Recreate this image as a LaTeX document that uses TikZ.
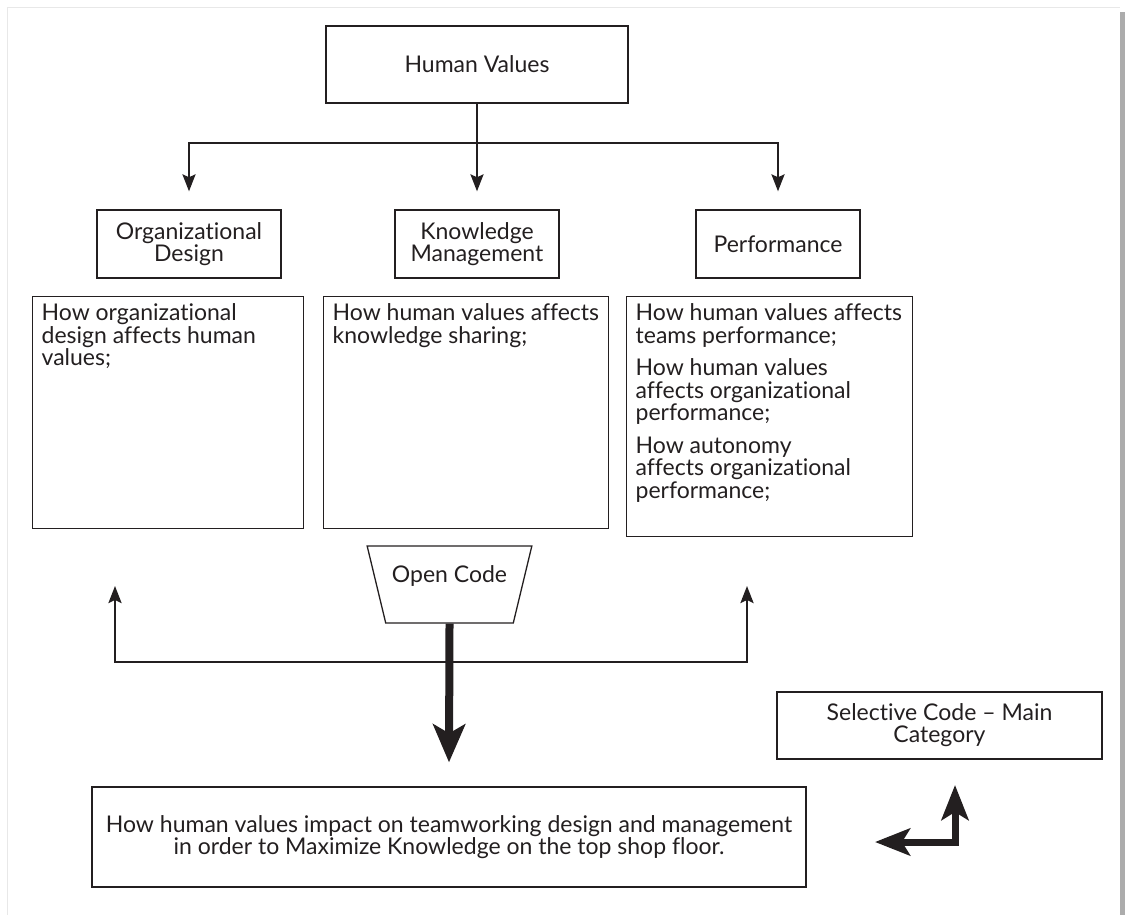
\documentclass[tikz,border=0pt]{standalone}
\usepackage{fontspec}
\setmainfont{Lato}[Ligatures=NoCommon]
\usetikzlibrary{arrows.meta,shapes.geometric}
\definecolor{ink}{HTML}{231F20}
\newcommand{\tbtext}[3]{\parbox[t][#1][t]{#2}{\fontsize{23}{22.5}\selectfont\lineskiplimit=-100pt\leftskip=9pt\rightskip=0pt plus 1fil\parindent=0pt\rule{0pt}{24pt}#3}}
\begin{document}
\begin{tikzpicture}[x=1pt,y=-1pt,
  every node/.style={text=ink},
  box/.style={draw=ink, line width=1.3pt, inner sep=0pt, font=\fontsize{23}{22}\selectfont, align=center},
  tbox/.style={draw=ink, line width=1.3pt, inner sep=0pt, anchor=north west},
  conn/.style={draw=ink, line width=2.6pt},
  thinarrow/.style={conn, -{Stealth[length=17pt,width=13pt,inset=3pt]}},
  thickarrow/.style={draw=ink, line width=8pt, -{Stealth[length=38pt,width=32pt,inset=9pt]}},
  bentarrow/.style={draw=ink, line width=7pt, line join=miter, {Stealth[length=35pt,width=27pt,inset=8pt]}-{Stealth[length=35pt,width=27pt,inset=8pt]}}
]
\useasboundingbox (0,0) rectangle (1125,915);
% outer frame
\draw[draw=gray!18, line width=1pt] (7,915) -- (7,8) -- (1120,8);
\fill[gray!65] (1120,12) rectangle (1125,915);

\node[box, minimum width=302pt, minimum height=77pt] (hv) at (477,64.5) {Human Values};
\node[box, minimum width=184pt, minimum height=68pt] (od) at (189,244) {Organizational\\Design};
\node[box, minimum width=164pt, minimum height=68pt] (km) at (477,244) {Knowledge\\Management};
\node[box, minimum width=164pt, minimum height=68pt] (pf) at (778,244) {Performance};

\node[tbox] (t1) at (32,296) {\tbtext{232pt}{271pt}{How organizational\\design affects human\\values;}};
\node[tbox] (t2) at (323,296) {\tbtext{232pt}{285pt}{How human values affects\\knowledge sharing;}};
\node[tbox] (t3) at (626,296) {\tbtext{240pt}{286pt}{How human values affects\\teams performance;\par\vspace{10pt}How human values\\affects organizational\\performance;\par\vspace{10pt}How autonomy\\affects organizational\\performance;}};

\node[trapezium, draw=ink, line width=1.3pt, shape border rotate=180, trapezium angle=65.6, trapezium stretches=true, minimum width=165pt, minimum height=77pt, inner sep=0pt, font=\fontsize{23}{22}\selectfont, text depth=20pt] (oc) at (449.5,584.5) {Open Code};

\node[box, minimum width=714pt, minimum height=100pt] (bt) at (449,837) {How human values impact on teamworking design and management\\in order to Maximize Knowledge on the top shop floor.};
\node[box, minimum width=325pt, minimum height=67pt] (sc) at (939.5,725.5) {Selective Code – Main\\Category};

% top connectors
\coordinate (hj) at (477,143);
\draw[conn] (hv.south) -- (hj);
\draw[thinarrow] (hj) -| ([yshift=18pt]od.north);
\draw[thinarrow] (hj) -- ([yshift=18pt]km.north);
\draw[thinarrow] (hj) -| ([yshift=18pt]pf.north);

% bottom bracket
\coordinate (bj) at (449,662);
\coordinate (ul) at (115,586);
\coordinate (ur) at (747,586);
\draw[thinarrow] (bj) -| (ul);
\draw[thinarrow] (bj) -| (ur);
\draw[thickarrow] (oc.south) -- ([yshift=24pt]bt.north);

% bent double arrow
\coordinate (ba1) at (875,842);
\coordinate (ba2) at (955,842);
\coordinate (ba3) at (955,785);
\draw[bentarrow] (ba1) -- (ba2) -- (ba3);
\end{tikzpicture}
\end{document}
